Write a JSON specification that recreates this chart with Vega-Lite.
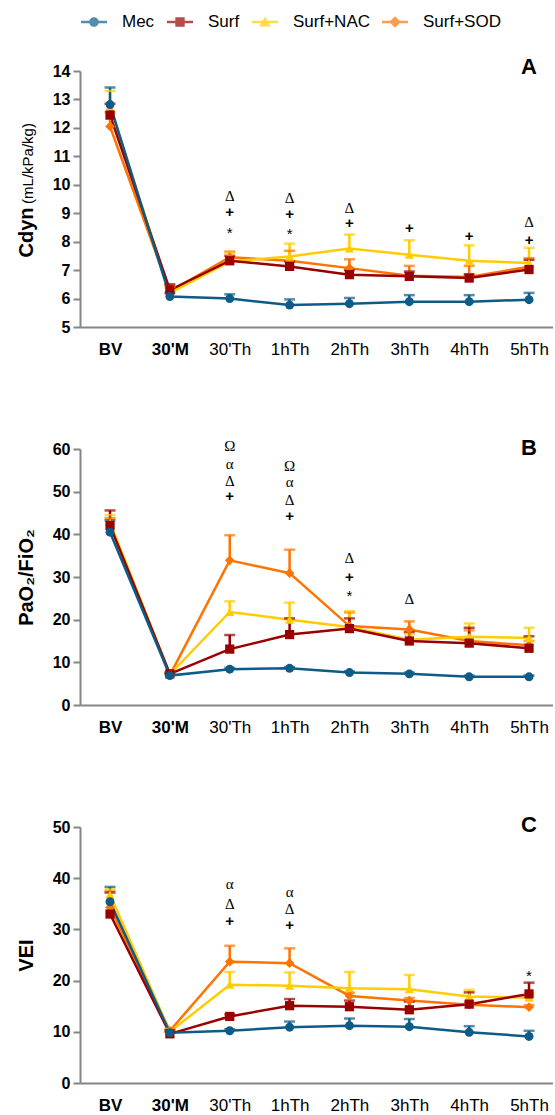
{
  "$schema": "https://vega.github.io/schema/vega-lite/v6.json",
  "background": "white",
  "padding": {"left": 16, "top": 9, "right": 0, "bottom": 0},
  "bounds": "flush",
  "spacing": 122,
  "config": {
    "view": {"stroke": null},
    "font": "Liberation Sans",
    "axis": {"grid": false, "domainColor": "#858585", "domainWidth": 2, "tickColor": "#858585", "tickWidth": 2, "labelColor": "#000000", "titleColor": "#000000", "labelFont": "Liberation Sans", "titleFont": "Liberation Sans"},
    "legend": {"orient": "none", "direction": "horizontal", "columns": 4, "padding": 0, "labelFont": "Liberation Sans", "labelFontSize": 17, "labelColor": "#000000", "columnPadding": 12}
  },
  "datasets": {
    "vals": [
      {"p":"A","g":"Surf+SOD","t":"BV","m":12.05,"u":12.55},{"p":"A","g":"Surf+SOD","t":"30'M","m":6.25,"u":6.45},{"p":"A","g":"Surf+SOD","t":"30'Th","m":7.45,"u":7.65},{"p":"A","g":"Surf+SOD","t":"1hTh","m":7.33,"u":7.68},{"p":"A","g":"Surf+SOD","t":"2hTh","m":7.07,"u":7.38},{"p":"A","g":"Surf+SOD","t":"3hTh","m":6.8,"u":7.15},{"p":"A","g":"Surf+SOD","t":"4hTh","m":6.76,"u":7.15},{"p":"A","g":"Surf+SOD","t":"5hTh","m":7.12,"u":7.42},
      {"p":"A","g":"Surf+NAC","t":"BV","m":12.75,"u":13.3},{"p":"A","g":"Surf+NAC","t":"30'M","m":6.2,"u":6.4},{"p":"A","g":"Surf+NAC","t":"30'Th","m":7.3,"u":7.6},{"p":"A","g":"Surf+NAC","t":"1hTh","m":7.48,"u":7.93},{"p":"A","g":"Surf+NAC","t":"2hTh","m":7.76,"u":8.25},{"p":"A","g":"Surf+NAC","t":"3hTh","m":7.54,"u":8.05},{"p":"A","g":"Surf+NAC","t":"4hTh","m":7.33,"u":7.87},{"p":"A","g":"Surf+NAC","t":"5hTh","m":7.25,"u":7.78},
      {"p":"A","g":"Surf","t":"BV","m":12.45,"u":12.85},{"p":"A","g":"Surf","t":"30'M","m":6.3,"u":6.5},{"p":"A","g":"Surf","t":"30'Th","m":7.33,"u":7.5},{"p":"A","g":"Surf","t":"1hTh","m":7.13,"u":7.3},{"p":"A","g":"Surf","t":"2hTh","m":6.84,"u":7.0},{"p":"A","g":"Surf","t":"3hTh","m":6.78,"u":6.95},{"p":"A","g":"Surf","t":"4hTh","m":6.72,"u":6.85},{"p":"A","g":"Surf","t":"5hTh","m":7.02,"u":7.36},
      {"p":"A","g":"Mec","t":"BV","m":12.82,"u":13.42},{"p":"A","g":"Mec","t":"30'M","m":6.07,"u":6.2},{"p":"A","g":"Mec","t":"30'Th","m":6.0,"u":6.15},{"p":"A","g":"Mec","t":"1hTh","m":5.77,"u":5.97},{"p":"A","g":"Mec","t":"2hTh","m":5.82,"u":6.02},{"p":"A","g":"Mec","t":"3hTh","m":5.89,"u":6.12},{"p":"A","g":"Mec","t":"4hTh","m":5.89,"u":6.12},{"p":"A","g":"Mec","t":"5hTh","m":5.96,"u":6.2},
      {"p":"B","g":"Surf+SOD","t":"BV","m":42.3,"u":43.8},{"p":"B","g":"Surf+SOD","t":"30'M","m":7.0,"u":7.3},{"p":"B","g":"Surf+SOD","t":"30'Th","m":33.9,"u":39.8},{"p":"B","g":"Surf+SOD","t":"1hTh","m":30.9,"u":36.4},{"p":"B","g":"Surf+SOD","t":"2hTh","m":18.5,"u":21.7},{"p":"B","g":"Surf+SOD","t":"3hTh","m":17.7,"u":19.6},{"p":"B","g":"Surf+SOD","t":"4hTh","m":15.0,"u":17.5},{"p":"B","g":"Surf+SOD","t":"5hTh","m":14.0,"u":15.0},
      {"p":"B","g":"Surf+NAC","t":"BV","m":42.8,"u":44.5},{"p":"B","g":"Surf+NAC","t":"30'M","m":7.2,"u":7.5},{"p":"B","g":"Surf+NAC","t":"30'Th","m":21.8,"u":24.3},{"p":"B","g":"Surf+NAC","t":"1hTh","m":20.0,"u":24.0},{"p":"B","g":"Surf+NAC","t":"2hTh","m":18.3,"u":22.0},{"p":"B","g":"Surf+NAC","t":"3hTh","m":15.3,"u":16.5},{"p":"B","g":"Surf+NAC","t":"4hTh","m":16.0,"u":19.1},{"p":"B","g":"Surf+NAC","t":"5hTh","m":15.7,"u":18.1},
      {"p":"B","g":"Surf","t":"BV","m":42.1,"u":45.6},{"p":"B","g":"Surf","t":"30'M","m":7.3,"u":7.6},{"p":"B","g":"Surf","t":"30'Th","m":13.1,"u":16.4},{"p":"B","g":"Surf","t":"1hTh","m":16.5,"u":20.3},{"p":"B","g":"Surf","t":"2hTh","m":17.9,"u":20.3},{"p":"B","g":"Surf","t":"3hTh","m":15.0,"u":17.1},{"p":"B","g":"Surf","t":"4hTh","m":14.5,"u":18.1},{"p":"B","g":"Surf","t":"5hTh","m":13.3,"u":16.1},
      {"p":"B","g":"Mec","t":"BV","m":40.5,"u":43.3},{"p":"B","g":"Mec","t":"30'M","m":6.9,"u":7.2},{"p":"B","g":"Mec","t":"30'Th","m":8.4,"u":8.7},{"p":"B","g":"Mec","t":"1hTh","m":8.6,"u":8.9},{"p":"B","g":"Mec","t":"2hTh","m":7.6,"u":7.9},{"p":"B","g":"Mec","t":"3hTh","m":7.3,"u":7.6},{"p":"B","g":"Mec","t":"4hTh","m":6.6,"u":6.9},{"p":"B","g":"Mec","t":"5hTh","m":6.6,"u":6.9},
      {"p":"C","g":"Surf+SOD","t":"BV","m":34.3,"u":37.5},{"p":"C","g":"Surf+SOD","t":"30'M","m":10.2,"u":10.6},{"p":"C","g":"Surf+SOD","t":"30'Th","m":23.7,"u":26.8},{"p":"C","g":"Surf+SOD","t":"1hTh","m":23.4,"u":26.3},{"p":"C","g":"Surf+SOD","t":"2hTh","m":17.0,"u":17.6},{"p":"C","g":"Surf+SOD","t":"3hTh","m":16.1,"u":16.6},{"p":"C","g":"Surf+SOD","t":"4hTh","m":15.3,"u":15.7},{"p":"C","g":"Surf+SOD","t":"5hTh","m":14.8,"u":15.2},
      {"p":"C","g":"Surf+NAC","t":"BV","m":36.8,"u":37.8},{"p":"C","g":"Surf+NAC","t":"30'M","m":10.0,"u":10.4},{"p":"C","g":"Surf+NAC","t":"30'Th","m":19.2,"u":21.7},{"p":"C","g":"Surf+NAC","t":"1hTh","m":19.0,"u":21.6},{"p":"C","g":"Surf+NAC","t":"2hTh","m":18.5,"u":21.7},{"p":"C","g":"Surf+NAC","t":"3hTh","m":18.3,"u":21.1},{"p":"C","g":"Surf+NAC","t":"4hTh","m":16.9,"u":18.2},{"p":"C","g":"Surf+NAC","t":"5hTh","m":16.7,"u":17.5},
      {"p":"C","g":"Surf","t":"BV","m":33.0,"u":37.2},{"p":"C","g":"Surf","t":"30'M","m":9.6,"u":10.0},{"p":"C","g":"Surf","t":"30'Th","m":13.0,"u":13.4},{"p":"C","g":"Surf","t":"1hTh","m":15.1,"u":16.4},{"p":"C","g":"Surf","t":"2hTh","m":14.9,"u":16.1},{"p":"C","g":"Surf","t":"3hTh","m":14.3,"u":15.9},{"p":"C","g":"Surf","t":"4hTh","m":15.4,"u":17.7},{"p":"C","g":"Surf","t":"5hTh","m":17.4,"u":19.6},
      {"p":"C","g":"Mec","t":"BV","m":35.4,"u":38.3},{"p":"C","g":"Mec","t":"30'M","m":9.8,"u":10.3},{"p":"C","g":"Mec","t":"30'Th","m":10.2,"u":10.5},{"p":"C","g":"Mec","t":"1hTh","m":10.9,"u":12.0},{"p":"C","g":"Mec","t":"2hTh","m":11.2,"u":12.6},{"p":"C","g":"Mec","t":"3hTh","m":11.0,"u":12.5},{"p":"C","g":"Mec","t":"4hTh","m":9.9,"u":11.1},{"p":"C","g":"Mec","t":"5hTh","m":9.1,"u":10.2}
    ],
    "ann": [
      {"p":"A","t":"30'Th","s":"Δ","y":9.6},{"p":"A","t":"30'Th","s":"+","y":9.04},{"p":"A","t":"30'Th","s":"*","y":8.45},
      {"p":"A","t":"1hTh","s":"Δ","y":9.55},{"p":"A","t":"1hTh","s":"+","y":8.98},{"p":"A","t":"1hTh","s":"*","y":8.42},
      {"p":"A","t":"2hTh","s":"Δ","y":9.2},{"p":"A","t":"2hTh","s":"+","y":8.65},
      {"p":"A","t":"3hTh","s":"+","y":8.48},{"p":"A","t":"4hTh","s":"+","y":8.21},
      {"p":"A","t":"5hTh","s":"Δ","y":8.68},{"p":"A","t":"5hTh","s":"+","y":8.07},
      {"p":"B","t":"30'Th","s":"Ω","y":60.7},{"p":"B","t":"30'Th","s":"α","y":56.6},{"p":"B","t":"30'Th","s":"Δ","y":52.6},{"p":"B","t":"30'Th","s":"+","y":48.9},
      {"p":"B","t":"1hTh","s":"Ω","y":56.1},{"p":"B","t":"1hTh","s":"α","y":52.2},{"p":"B","t":"1hTh","s":"Δ","y":48.1},{"p":"B","t":"1hTh","s":"+","y":44.4},
      {"p":"B","t":"2hTh","s":"Δ","y":34.4},{"p":"B","t":"2hTh","s":"+","y":30.1},{"p":"B","t":"2hTh","s":"*","y":26.4},
      {"p":"B","t":"3hTh","s":"Δ","y":24.9},
      {"p":"C","t":"30'Th","s":"α","y":38.8},{"p":"C","t":"30'Th","s":"Δ","y":34.9},{"p":"C","t":"30'Th","s":"+","y":31.7},
      {"p":"C","t":"1hTh","s":"α","y":37.3},{"p":"C","t":"1hTh","s":"Δ","y":33.9},{"p":"C","t":"1hTh","s":"+","y":30.8},
      {"p":"C","t":"5hTh","s":"*","y":21.6}
    ]
  },
  "resolve": {"scale": {"color": "shared", "shape": "shared"}, "legend": {"color": "shared", "shape": "shared"}},
  "vconcat": [
    {
      "width": 473, "height": 256,
      "encoding": {"x": {"field": "t", "type": "ordinal", "title": null, "scale": {"type": "point", "domain": ["BV","30'M","30'Th","1hTh","2hTh","3hTh","4hTh","5hTh"], "padding": 0.451, "align": 0.556}, "axis": {"ticks": false, "labelAngle": 0, "labelFontSize": 17, "labelPadding": 14, "labelBaseline": "top", "labelFontWeight": {"condition": {"test": "datum.value === 'BV' || datum.value === \"30'M\"", "value": "bold"}, "value": "normal"}}}},
      "resolve": {"axis": {"y": "independent"}},
      "layer": [
        {
          "data": {"name": "vals"},
          "transform": [{"filter": "datum.p === 'A'"}],
          "encoding": {
            "y": {"field": "m", "type": "quantitative", "scale": {"domain": [5, 14], "nice": false, "zero": false}, "axis": {"orient": "left", "values": [5,6,7,8,9,10,11,12,13,14], "title": "Cdyn", "titleFontSize": 20, "titleFontWeight": "bold", "titleAngle": 270, "titleAlign": "center", "titleBaseline": "alphabetic", "titleX": -48, "titleY": 161, "labelFontSize": 16, "labelFontWeight": "bold", "tickSize": 7, "labelPadding": 3}},
            "color": {"field": "g", "type": "nominal", "title": null, "scale": {"domain": ["Mec","Surf","Surf+NAC","Surf+SOD"], "range": ["#0d5b87","#990000","#ffcc00","#ff7300"]}}
          },
          "layer": [
            {"mark": {"type": "line", "strokeWidth": 2.5}, "encoding": {"order": {"value": null}}},
            {"mark": {"type": "rule", "strokeWidth": 2.5}, "encoding": {"y2": {"field": "u"}}},
            {"mark": {"type": "tick", "thickness": 2.5, "size": 11}, "encoding": {"y": {"field": "u", "type": "quantitative"}}},
            {"transform": [{"filter": "datum.g === 'Surf+SOD'"}], "mark": {"type": "point", "shape": "diamond", "filled": true, "size": 95, "opacity": 1}},
            {"transform": [{"filter": "datum.g === 'Surf+NAC'"}], "mark": {"type": "point", "shape": "triangle-up", "filled": true, "size": 85, "opacity": 1}},
            {"transform": [{"filter": "datum.g === 'Surf'"}], "mark": {"type": "point", "shape": "square", "filled": true, "size": 85, "opacity": 1}},
            {"transform": [{"filter": "datum.g === 'Mec'"}], "mark": {"type": "point", "shape": "circle", "filled": true, "size": 80, "opacity": 1}}
          ]
        },
        {
          "data": {"name": "vals"},
          "transform": [{"filter": "datum.p === 'A'"}],
          "mark": {"type": "point", "filled": true, "opacity": 0},
          "encoding": {
            "y": {"field": "m", "type": "quantitative", "axis": {"orient": "left", "title": "(mL/kPa/kg)", "titleFontSize": 15, "titleFontWeight": "normal", "titleAngle": 270, "titleAlign": "center", "titleBaseline": "alphabetic", "titleX": -48, "titleY": 92, "labels": false, "ticks": false, "domain": false}},
            "color": {"field": "g", "type": "nominal", "title": null, "scale": {"domain": ["Mec","Surf","Surf+NAC","Surf+SOD"], "range": ["#0d5b87","#990000","#ffcc00","#ff7300"]},
              "legend": {"title": null, "orient": "none", "legendX": 1, "legendY": -62, "direction": "horizontal", "columns": 4, "symbolSize": 676, "symbolStrokeWidth": 0, "symbolOpacity": 1, "labelFontSize": 17, "labelOffset": 15, "columnPadding": 12, "padding": 0}},
            "shape": {"field": "g", "type": "nominal", "title": null, "scale": {"domain": ["Mec","Surf","Surf+NAC","Surf+SOD"], "range": [
              "M-1,-0.1L1,-0.1L1,0.1L-1,0.1ZM-0.37,0A0.37,0.37,0,1,1,0.37,0A0.37,0.37,0,1,1,-0.37,0Z",
              "M-1,-0.1L1,-0.1L1,0.1L-1,0.1ZM-0.36,-0.36L0.36,-0.36L0.36,0.36L-0.36,0.36Z",
              "M-1,-0.1L1,-0.1L1,0.1L-1,0.1ZM0,-0.42L0.44,0.34L-0.44,0.34Z",
              "M-1,-0.1L1,-0.1L1,0.1L-1,0.1ZM0,-0.45L0.45,0L0,0.45L-0.45,0Z"]},
              "legend": {"title": null, "orient": "none", "legendX": 1, "legendY": -62, "direction": "horizontal", "columns": 4, "symbolSize": 676, "symbolStrokeWidth": 0, "symbolOpacity": 1, "labelFontSize": 17, "labelOffset": 15, "columnPadding": 12, "padding": 0}}
          }
        },
        {
          "data": {"name": "ann"},
          "transform": [{"filter": "datum.p === 'A' && datum.s !== '+' && datum.s !== '*'"}],
          "mark": {"type": "text", "font": "Liberation Serif", "fontSize": 15, "baseline": "middle", "align": "center"},
          "encoding": {"y": {"field": "y", "type": "quantitative", "axis": null}, "text": {"field": "s"}}
        },
        {
          "data": {"name": "ann"},
          "transform": [{"filter": "datum.p === 'A' && datum.s === '+'"}],
          "mark": {"type": "text", "fontSize": 15, "fontWeight": "bold", "baseline": "middle", "align": "center"},
          "encoding": {"y": {"field": "y", "type": "quantitative", "axis": null}, "text": {"field": "s"}}
        },
        {
          "data": {"name": "ann"},
          "transform": [{"filter": "datum.p === 'A' && datum.s === '*'"}],
          "mark": {"type": "text", "fontSize": 15, "baseline": "middle", "align": "center", "dy": 4},
          "encoding": {"y": {"field": "y", "type": "quantitative", "axis": null}, "text": {"field": "s"}}
        },
        {
          "data": {"values": [{}]},
          "mark": {"type": "text", "text": "A", "fontSize": 22, "fontWeight": "bold", "baseline": "middle", "align": "center", "dy": -4},
          "encoding": {"x": {"datum": "5hTh"}, "y": {"datum": 14, "type": "quantitative", "axis": null}}
        }
      ]
    },
    {
      "width": 473, "height": 256,
      "encoding": {"x": {"field": "t", "type": "ordinal", "title": null, "scale": {"type": "point", "domain": ["BV","30'M","30'Th","1hTh","2hTh","3hTh","4hTh","5hTh"], "padding": 0.451, "align": 0.556}, "axis": {"ticks": false, "labelAngle": 0, "labelFontSize": 17, "labelPadding": 14, "labelBaseline": "top", "labelFontWeight": {"condition": {"test": "datum.value === 'BV' || datum.value === \"30'M\"", "value": "bold"}, "value": "normal"}}}},
      "layer": [
        {
          "data": {"name": "vals"},
          "transform": [{"filter": "datum.p === 'B'"}],
          "encoding": {
            "y": {"field": "m", "type": "quantitative", "scale": {"domain": [0, 60], "nice": false, "zero": false}, "axis": {"orient": "left", "values": [0,10,20,30,40,50,60], "title": "PaO₂/FiO₂", "titleFontSize": 20, "titleFontWeight": "bold", "titleAngle": 270, "titleAlign": "center", "titleBaseline": "alphabetic", "titleX": -48, "titleY": 128, "labelFontSize": 16, "labelFontWeight": "bold", "tickSize": 7, "labelPadding": 3}},
            "color": {"field": "g", "type": "nominal", "title": null, "scale": {"domain": ["Mec","Surf","Surf+NAC","Surf+SOD"], "range": ["#0d5b87","#990000","#ffcc00","#ff7300"]}}
          },
          "layer": [
            {"mark": {"type": "line", "strokeWidth": 2.5}, "encoding": {"order": {"value": null}}},
            {"mark": {"type": "rule", "strokeWidth": 2.5}, "encoding": {"y2": {"field": "u"}}},
            {"mark": {"type": "tick", "thickness": 2.5, "size": 11}, "encoding": {"y": {"field": "u", "type": "quantitative"}}},
            {"transform": [{"filter": "datum.g === 'Surf+SOD'"}], "mark": {"type": "point", "shape": "diamond", "filled": true, "size": 95, "opacity": 1}},
            {"transform": [{"filter": "datum.g === 'Surf+NAC'"}], "mark": {"type": "point", "shape": "triangle-up", "filled": true, "size": 85, "opacity": 1}},
            {"transform": [{"filter": "datum.g === 'Surf'"}], "mark": {"type": "point", "shape": "square", "filled": true, "size": 85, "opacity": 1}},
            {"transform": [{"filter": "datum.g === 'Mec'"}], "mark": {"type": "point", "shape": "circle", "filled": true, "size": 80, "opacity": 1}}
          ]
        },
        {
          "data": {"name": "ann"},
          "transform": [{"filter": "datum.p === 'B' && datum.s !== '+' && datum.s !== '*'"}],
          "mark": {"type": "text", "font": "Liberation Serif", "fontSize": 15, "baseline": "middle", "align": "center"},
          "encoding": {"y": {"field": "y", "type": "quantitative"}, "text": {"field": "s"}}
        },
        {
          "data": {"name": "ann"},
          "transform": [{"filter": "datum.p === 'B' && datum.s === '+'"}],
          "mark": {"type": "text", "fontSize": 15, "fontWeight": "bold", "baseline": "middle", "align": "center"},
          "encoding": {"y": {"field": "y", "type": "quantitative"}, "text": {"field": "s"}}
        },
        {
          "data": {"name": "ann"},
          "transform": [{"filter": "datum.p === 'B' && datum.s === '*'"}],
          "mark": {"type": "text", "fontSize": 15, "baseline": "middle", "align": "center", "dy": 4},
          "encoding": {"y": {"field": "y", "type": "quantitative"}, "text": {"field": "s"}}
        },
        {
          "data": {"values": [{}]},
          "mark": {"type": "text", "text": "B", "fontSize": 22, "fontWeight": "bold", "baseline": "middle", "align": "center", "dy": -1},
          "encoding": {"x": {"datum": "5hTh"}, "y": {"datum": 60, "type": "quantitative"}}
        }
      ]
    },
    {
      "width": 473, "height": 256,
      "encoding": {"x": {"field": "t", "type": "ordinal", "title": null, "scale": {"type": "point", "domain": ["BV","30'M","30'Th","1hTh","2hTh","3hTh","4hTh","5hTh"], "padding": 0.451, "align": 0.556}, "axis": {"ticks": false, "labelAngle": 0, "labelFontSize": 17, "labelPadding": 14, "labelBaseline": "top", "labelFontWeight": {"condition": {"test": "datum.value === 'BV' || datum.value === \"30'M\"", "value": "bold"}, "value": "normal"}}}},
      "layer": [
        {
          "data": {"name": "vals"},
          "transform": [{"filter": "datum.p === 'C'"}],
          "encoding": {
            "y": {"field": "m", "type": "quantitative", "scale": {"domain": [0, 50], "nice": false, "zero": false}, "axis": {"orient": "left", "values": [0,10,20,30,40,50], "title": "VEI", "titleFontSize": 20, "titleFontWeight": "bold", "titleAngle": 270, "titleAlign": "center", "titleBaseline": "alphabetic", "titleX": -48, "titleY": 128, "labelFontSize": 16, "labelFontWeight": "bold", "tickSize": 7, "labelPadding": 3}},
            "color": {"field": "g", "type": "nominal", "title": null, "scale": {"domain": ["Mec","Surf","Surf+NAC","Surf+SOD"], "range": ["#0d5b87","#990000","#ffcc00","#ff7300"]}}
          },
          "layer": [
            {"mark": {"type": "line", "strokeWidth": 2.5}, "encoding": {"order": {"value": null}}},
            {"mark": {"type": "rule", "strokeWidth": 2.5}, "encoding": {"y2": {"field": "u"}}},
            {"mark": {"type": "tick", "thickness": 2.5, "size": 11}, "encoding": {"y": {"field": "u", "type": "quantitative"}}},
            {"transform": [{"filter": "datum.g === 'Surf+SOD'"}], "mark": {"type": "point", "shape": "diamond", "filled": true, "size": 95, "opacity": 1}},
            {"transform": [{"filter": "datum.g === 'Surf+NAC'"}], "mark": {"type": "point", "shape": "triangle-up", "filled": true, "size": 85, "opacity": 1}},
            {"transform": [{"filter": "datum.g === 'Surf'"}], "mark": {"type": "point", "shape": "square", "filled": true, "size": 85, "opacity": 1}},
            {"transform": [{"filter": "datum.g === 'Mec'"}], "mark": {"type": "point", "shape": "circle", "filled": true, "size": 80, "opacity": 1}}
          ]
        },
        {
          "data": {"name": "ann"},
          "transform": [{"filter": "datum.p === 'C' && datum.s !== '+' && datum.s !== '*'"}],
          "mark": {"type": "text", "font": "Liberation Serif", "fontSize": 15, "baseline": "middle", "align": "center"},
          "encoding": {"y": {"field": "y", "type": "quantitative"}, "text": {"field": "s"}}
        },
        {
          "data": {"name": "ann"},
          "transform": [{"filter": "datum.p === 'C' && datum.s === '+'"}],
          "mark": {"type": "text", "fontSize": 15, "fontWeight": "bold", "baseline": "middle", "align": "center"},
          "encoding": {"y": {"field": "y", "type": "quantitative"}, "text": {"field": "s"}}
        },
        {
          "data": {"name": "ann"},
          "transform": [{"filter": "datum.p === 'C' && datum.s === '*'"}],
          "mark": {"type": "text", "fontSize": 15, "baseline": "middle", "align": "center", "dy": 4},
          "encoding": {"y": {"field": "y", "type": "quantitative"}, "text": {"field": "s"}}
        },
        {
          "data": {"values": [{}]},
          "mark": {"type": "text", "text": "C", "fontSize": 22, "fontWeight": "bold", "baseline": "middle", "align": "center", "dy": -2},
          "encoding": {"x": {"datum": "5hTh"}, "y": {"datum": 50, "type": "quantitative"}}
        }
      ]
    }
  ]
}
